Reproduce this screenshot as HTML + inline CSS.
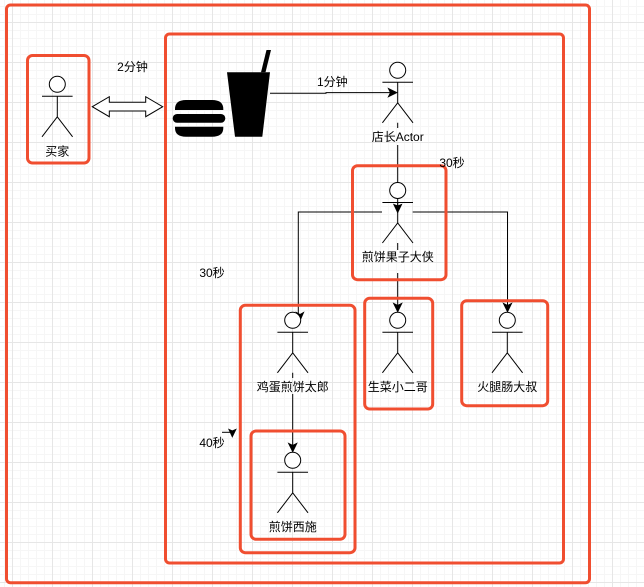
<!DOCTYPE html>
<html>
<head>
<meta charset="utf-8">
<style>
html,body{margin:0;padding:0;background:#fff;width:644px;height:587px;overflow:hidden}
svg{display:block}
text{font-family:"Liberation Sans","Noto Sans CJK SC",sans-serif;font-size:12px;fill:#000;text-anchor:middle}
.b{fill:none;stroke:#f04e30;stroke-width:3}
.l{fill:none;stroke:#000;stroke-width:1}
</style>
</head>
<body>
<svg width="644" height="587" viewBox="0 0 644 587" xmlns="http://www.w3.org/2000/svg">
<defs>
<pattern id="g8" width="8" height="8" patternUnits="userSpaceOnUse" x="4" y="6">
<path d="M0.5 0V8M0 0.5H8" fill="none" stroke="#f6f6f6" stroke-width="1"/>
</pattern>
<pattern id="g40" width="40" height="40" patternUnits="userSpaceOnUse" x="12" y="22">
<path d="M0.5 0V40M0 0.5H40" fill="none" stroke="#e6e6e6" stroke-width="1"/>
</pattern>
<g id="actor">
<path class="l" d="M0 12V32.5M-15.3 12H15.3M-15.3 52.5L0 32.5L15.3 52.5"/>
<circle r="8" fill="#fff" stroke="#000" stroke-width="1"/>
</g>
</defs>
<rect width="644" height="587" fill="#fff"/>
<rect width="644" height="587" fill="url(#g8)"/>
<rect width="644" height="587" fill="url(#g40)"/>

<!-- connectors -->
<path class="l" d="M270 93.3H326V92.6H392"/>
<path d="M396.7 92.6L388.5 88.6L390.5 92.6L388.5 96.6Z" fill="#000" stroke="#000"/>
<path class="l" d="M397.7 122.7V128M397.7 145V206"/>
<path class="l" d="M382 212H298.3V316M412.7 212H507.5V306M397.7 243V250M397.7 273V306"/>
<path d="M300 320.5L296.5 312.5L300 314.5L303.5 312.5Z" fill="#000" stroke="#000"/>
<path d="M397.7 311.7L393.7 303.5L397.7 305.5L401.7 303.5Z" fill="#000" stroke="#000"/>
<path d="M507.5 311.7L503.5 303.5L507.5 305.5L511.5 303.5Z" fill="#000" stroke="#000"/>
<path class="l" d="M292.7 372.7V378M292.7 394V446"/>
<path d="M292.7 451.7L288.7 443.5L292.7 445.5L296.7 443.5Z" fill="#000" stroke="#000"/>
<path class="l" d="M222 432.3H232.3"/>
<path d="M232.3 436.7L229 429.5L232.3 431L235.8 429.5Z" fill="#000" stroke="#000"/>

<!-- actors -->
<use href="#actor" x="57.3" y="84.3"/>
<use href="#actor" x="397.7" y="70.3"/>
<use href="#actor" x="397.7" y="190.5"/>
<use href="#actor" x="292.7" y="320.3"/>
<use href="#actor" x="292.7" y="460.3"/>
<use href="#actor" x="397.7" y="320.3"/>
<use href="#actor" x="507.3" y="320.3"/>
<path d="M397.7 212.5L393.9 204.5L397.7 206L401.5 204.5Z" fill="#000" stroke="#000"/>

<!-- double arrow -->
<path d="M92.3 106.7L109.3 96.7V102.3H145.7V96.7L162.7 106.7L145.7 116.7V111H109.3V116.7Z" fill="#fff" stroke="#000" stroke-width="1"/>

<!-- burger -->
<path d="M175 110V109Q175 100 186 100H212Q223.3 100 223.3 109V110Z" fill="#000"/>
<rect x="172.7" y="114" width="52.6" height="8.7" rx="4.3" fill="#000"/>
<path d="M175 126.7V128Q175 136.7 186 136.7H212Q223.3 136.7 223.3 128V126.7Z" fill="#000"/>

<!-- cup -->
<path d="M227 72.3H270L262.3 136.7H235Z" fill="#000"/>
<path d="M261 72.3L266.5 50H271L265.5 72.3Z" fill="#000"/>

<!-- boxes -->
<rect class="b" x="6.5" y="5" width="583" height="577.7" rx="4"/>
<rect class="b" x="165.5" y="34" width="398" height="529" rx="4"/>
<rect class="b" x="27.5" y="55.5" width="61.5" height="107.5" rx="5"/>
<rect class="b" x="352.5" y="165.7" width="93.5" height="114" rx="5"/>
<rect class="b" x="240.3" y="305.3" width="114.7" height="247.4" rx="5"/>
<rect class="b" x="364.7" y="298.3" width="68" height="110.7" rx="5"/>
<rect class="b" x="461.7" y="300.7" width="86" height="105" rx="5"/>
<rect class="b" x="251" y="431" width="94" height="108.3" rx="5"/>

<!-- labels -->
<text x="57.3" y="155.5">买家</text>
<text x="132.5" y="71">2分钟</text>
<text x="332.3" y="86">1分钟</text>
<text x="397.7" y="141">店长Actor</text>
<text x="452" y="167">30秒</text>
<text x="397.7" y="261">煎饼果子大侠</text>
<text x="212" y="277">30秒</text>
<text x="292.7" y="391">鸡蛋煎饼太郎</text>
<text x="397.7" y="391">生菜小二哥</text>
<text x="507.3" y="391">火腿肠大叔</text>
<text x="212" y="447">40秒</text>
<text x="292.7" y="531">煎饼西施</text>
</svg>
</body>
</html>
